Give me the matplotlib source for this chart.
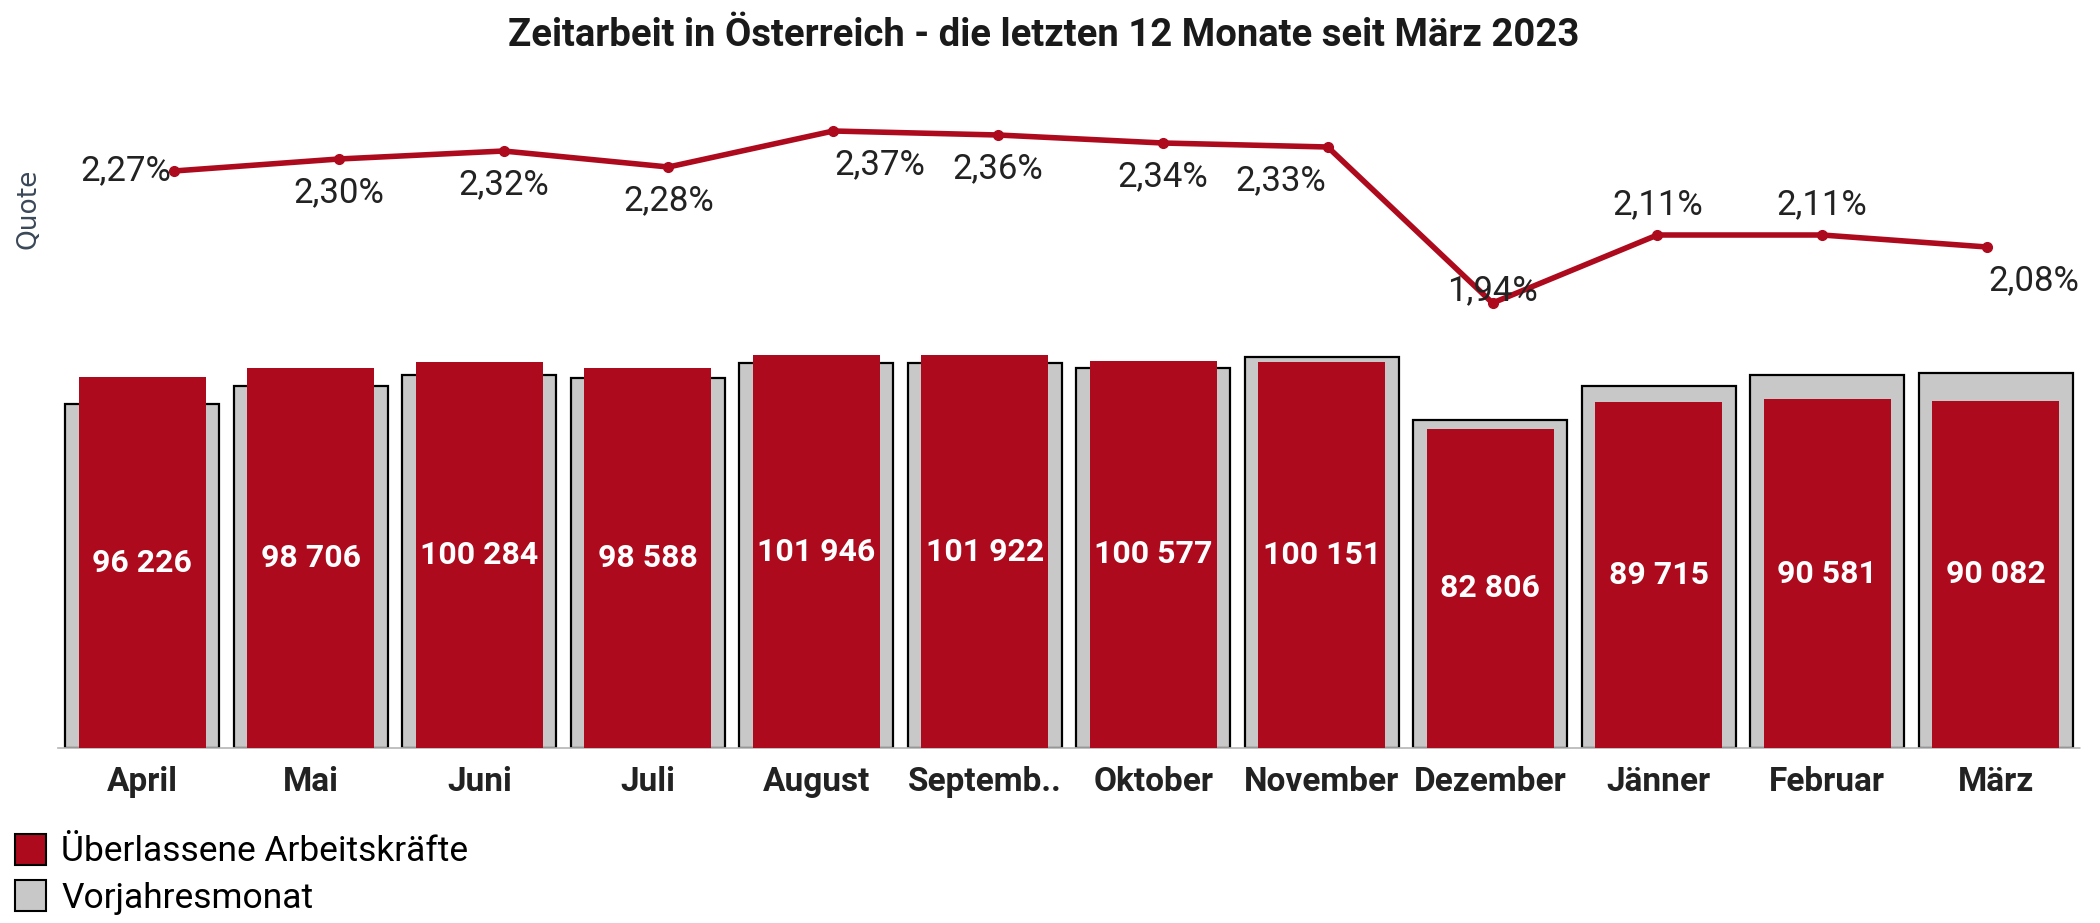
import numpy as np
import matplotlib
matplotlib.use('Agg')
import matplotlib.pyplot as plt
from matplotlib import font_manager
from matplotlib.patches import Patch

monate = ['April', 'Mai', 'Juni', 'Juli', 'August', 'Septemb..', 'Oktober',
          'November', 'Dezember', 'Jänner', 'Februar', 'März']
ueberlassene = [96226, 98706, 100284, 98588, 101946, 101922, 100577,
                100151, 82806, 89715, 90581, 90082]
vorjahr = [89300, 94000, 96750, 96100, 99950, 99950, 98750,
           101500, 85250, 94000, 96850, 97350]
quote = [2.27, 2.30, 2.32, 2.28, 2.37, 2.36, 2.34, 2.33, 1.94, 2.11, 2.11, 2.08]

ROT = '#ad0a1d'
GRAU = '#c8c8c8'


def pick_font(wanted, fallback='DejaVu Sans'):
    avail = {f.name for f in font_manager.fontManager.ttflist}
    for w in wanted:
        if w in avail:
            return w
    return fallback


def main():
    narrow = pick_font(['Liberation Sans Narrow', 'DejaVu Sans Condensed', 'Roboto'])
    plt.rcParams['font.family'] = [narrow, 'DejaVu Sans']

    fig = plt.figure(figsize=(21, 9.23), dpi=100)

    # Balken (unten)
    ax = fig.add_axes([58/2100, 1-748/923, 2022/2100, 408/923])
    x = np.arange(len(monate))
    ax.bar(x, vorjahr, width=0.915, color=GRAU, edgecolor='black', linewidth=1.6, zorder=2)
    ax.bar(x, ueberlassene, width=0.755, color=ROT, linewidth=0, zorder=3)
    for i, v in enumerate(ueberlassene):
        ax.text(i, v/2, f"{v:,}".replace(',', ' '), ha='center', va='center',
                color='white', fontsize=23, fontweight='bold', zorder=4)
    ax.set_xlim(-0.5, 11.5)
    ax.set_ylim(0, 105900)
    ax.set_xticks(x)
    ax.set_xticklabels(monate, fontsize=24, fontweight='bold', color='#222222')
    ax.tick_params(axis='x', length=0, pad=13)
    ax.set_yticks([])
    for s in ['top', 'left', 'right']:
        ax.spines[s].set_visible(False)
    ax.spines['bottom'].set_color('#b5b5b5')
    ax.spines['bottom'].set_linestyle((0, (1, 1)))
    ax.spines['bottom'].set_linewidth(1.2)

    # Quote (oben)
    ax2 = fig.add_axes([174/2100, 1-330/923, 1813/2100, 230/923])
    ax2.plot(np.arange(len(quote)), quote, color=ROT, linewidth=4, marker='o',
             markersize=7, clip_on=False)
    ax2.set_xlim(0, 11)
    ax2.set_ylim(1.8725, 2.4475)
    ax2.axis('off')

    lage = ['left', 'below', 'below', 'below', 'below_r', 'below', 'below',
            'below_l', 'center', 'above', 'above', 'below_r']
    offs = {'left': ((-2, 0), 'right'), 'below': ((0, -24), 'center'),
            'below_r': ((1, -24), 'left'), 'below_l': ((-1, -24), 'right'),
            'center': ((0, 9), 'center'), 'above': ((0, 22), 'center')}
    for i, q in enumerate(quote):
        (dx, dy), ha = offs[lage[i]]
        ax2.annotate(f"{q:.2f}".replace('.', ',') + '%', (i, q), xytext=(dx, dy),
                     textcoords='offset points', ha=ha, va='center',
                     fontsize=25, color='#222222')

    fig.text(28/2100, 1-209/923, 'Quote', rotation=90, ha='center', va='center',
             fontsize=19, color='#3a4758', family='DejaVu Sans')

    fig.text(0.497, 1-36/923, 'Zeitarbeit in Österreich - die letzten 12 Monate seit März 2023',
             ha='center', va='center', fontsize=27.5, fontweight='bold', color='#1a1a1a')

    handles = [Patch(facecolor=ROT, edgecolor='black', linewidth=1.5),
               Patch(facecolor=GRAU, edgecolor='black', linewidth=1.5)]
    fig.legend(handles, ['Überlassene Arbeitskräfte', 'Vorjahresmonat'],
               loc='upper left', bbox_to_anchor=(15/2100, 1-834/923), frameon=False,
               fontsize=25.5, handlelength=0.88, handleheight=0.95, handletextpad=0.42,
               labelspacing=0.33, borderaxespad=0, borderpad=0)

    fig.savefig('out.png', dpi=100)


if __name__ == "__main__":
    main()
